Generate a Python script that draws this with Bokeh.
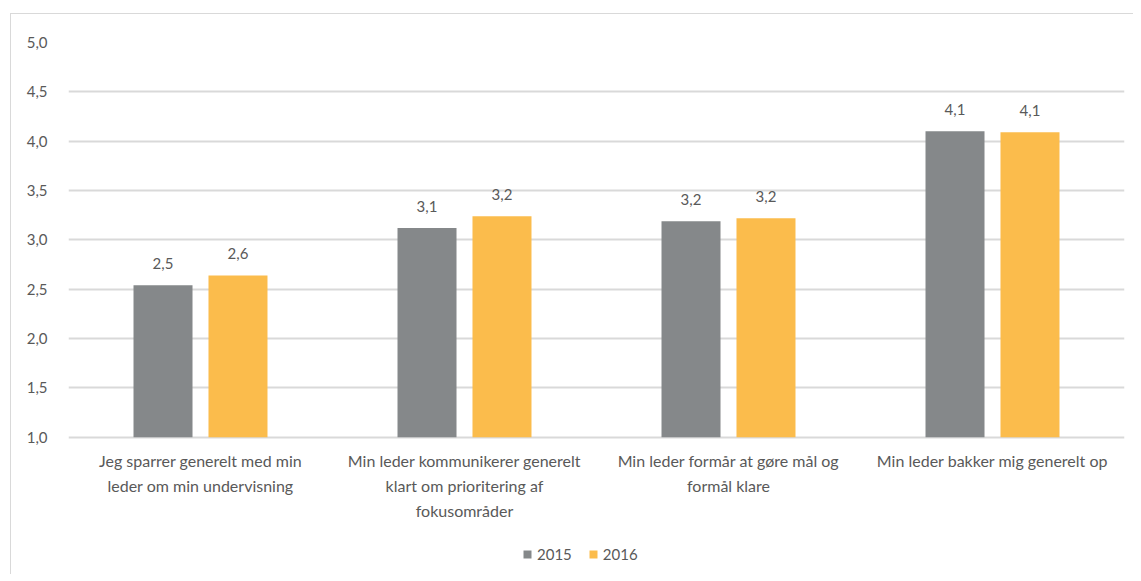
from bokeh.plotting import figure
from bokeh.models import (FactorRange, ColumnDataSource, LabelSet, Legend, LegendItem,
                          CustomJSTickFormatter, FixedTicker)
from bokeh.core.properties import value
from bokeh.transform import dodge
from bokeh.embed import file_html
from bokeh.resources import INLINE

categories = [
    "Jeg sparrer generelt med min\nleder om min undervisning",
    "Min leder kommunikerer generelt\nklart om prioritering af\nfokusområder",
    "Min leder formår at gøre mål og\nformål klare",
    "Min leder bakker mig generelt op",
]
values_2015 = [2.54, 3.12, 3.19, 4.10]
values_2016 = [2.64, 3.24, 3.22, 4.09]
labels_2015 = ["2,5", "3,1", "3,2", "4,1"]
labels_2016 = ["2,6", "3,2", "3,2", "4,1"]
yticks = [1.0, 1.5, 2.0, 2.5, 3.0, 3.5, 4.0, 4.5, 5.0]

GRAY = "#85888a"
ORANGE = "#fbbc4c"
TEXT = "#595959"
GRID = "#d9d9d9"
FONT = "Lato"
BASE = yticks[0]

split = [c.split("\n") for c in categories]
nlines = max(len(s) for s in split)
line_cols = {f"line{i}": [s[i] if i < len(s) else "" for s in split] for i in range(nlines)}

src = ColumnDataSource(dict(cat=categories, v15=values_2015, v16=values_2016,
                            l15=labels_2015, l16=labels_2016,
                            base=[BASE] * len(categories), **line_cols))

# frame extends below the value axis so the legend can sit inside it
p = figure(x_range=FactorRange(*categories), y_range=(-0.39, 5.0),
           frame_width=1056, frame_height=532, output_backend="svg", toolbar_location=None,
           min_border_left=57, min_border_right=9, min_border_top=28, min_border_bottom=0,
           margin=(13, 0, 0, 10),
           styles={"border-left": "1px solid #d9d9d9", "border-top": "1px solid #d9d9d9"})
p.outline_line_color = None
p.background_fill_color = "white"
p.border_fill_color = "white"

off = 0.142
w = 0.2235
r15 = p.vbar(x=dodge("cat", -off, range=p.x_range), top="v15", bottom="base", width=w,
             source=src, fill_color=GRAY, line_color=None)
r16 = p.vbar(x=dodge("cat", off, range=p.x_range), top="v16", bottom="base", width=w,
             source=src, fill_color=ORANGE, line_color=None)

for xf, yf, tf in ((-off, "v15", "l15"), (off, "v16", "l16")):
    ls = LabelSet(x=dodge("cat", xf, range=p.x_range), y=yf, text=tf, source=src,
                  text_align="center", text_baseline="alphabetic", y_offset=16,
                  text_font=value(FONT), text_font_size="15px", text_color=TEXT)
    p.add_layout(ls)

# category labels under the baseline, one centred line at a time
for i in range(nlines):
    cl = LabelSet(x="cat", y="base", text=f"line{i}", source=src,
                  text_align="center", text_baseline="alphabetic", y_offset=-30 - 25 * i,
                  text_font=value(FONT), text_font_size="16px", text_color=TEXT)
    p.add_layout(cl)

# y axis
p.yaxis.ticker = FixedTicker(ticks=yticks)
p.yaxis.formatter = CustomJSTickFormatter(code="return tick.toFixed(1).replace('.', ',');")
p.yaxis.axis_line_color = None
p.yaxis.major_tick_line_color = None
p.yaxis.minor_tick_line_color = None
p.yaxis.major_label_standoff = 15
p.yaxis.major_label_text_font = FONT
p.yaxis.major_label_text_font_size = "15px"
p.yaxis.major_label_text_color = TEXT

p.xaxis.visible = False

p.xgrid.grid_line_color = None
p.ygrid.grid_line_color = GRID
p.ygrid.grid_line_width = 2

legend = Legend(items=[LegendItem(label="2015", renderers=[r15]),
                       LegendItem(label="2016", renderers=[r16])],
                orientation="horizontal", location=(454, 11),
                label_text_font=FONT, label_text_font_size="15px", label_text_color=TEXT,
                glyph_width=10, glyph_height=10, label_standoff=5, spacing=16,
                border_line_color=None, background_fill_alpha=0, margin=0, padding=0)
p.add_layout(legend)

open("out.html", "w").write(file_html(p, INLINE))
